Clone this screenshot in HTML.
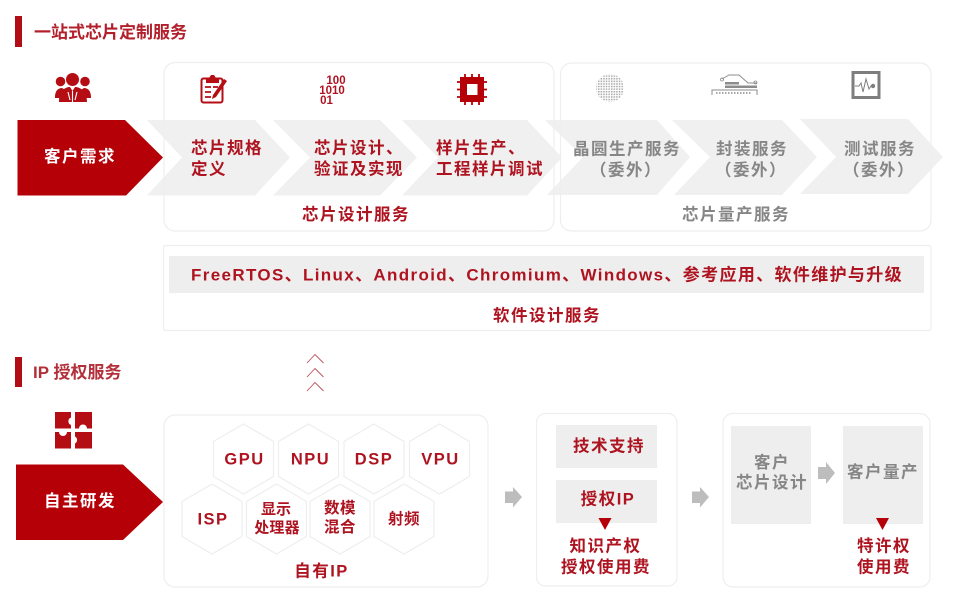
<!DOCTYPE html>
<html><head><meta charset="utf-8"><style>
html,body{margin:0;padding:0;background:#fff;width:963px;height:603px;overflow:hidden}
svg{display:block}
text{font-family:"Liberation Sans","Noto Sans CJK SC",sans-serif;text-anchor:middle;dominant-baseline:central;transform:translateY(1px)}
.r{fill:#ae1320;font-weight:700;font-size:16.5px;letter-spacing:1.5px}
.g{fill:#868686;font-weight:700;font-size:16.5px;letter-spacing:1.5px}
.w{fill:#fff;font-weight:700;font-size:16.5px;letter-spacing:1.5px}
.s{text-anchor:start}
.box{fill:none;stroke:#eeeeee;stroke-width:1.2}
.hex{fill:#fff;stroke:#eeeeee;stroke-width:1.2}
</style></head><body>
<svg width="963" height="603" viewBox="0 0 963 603" xmlns="http://www.w3.org/2000/svg">
<defs>
<pattern id="dots" width="2.6" height="2.6" patternUnits="userSpaceOnUse"><rect width="1.5" height="1.5" fill="#a8a8a8"/></pattern>
</defs>
<rect width="963" height="603" fill="#fff"/>

<!-- Section 1 header -->
<rect x="15" y="16" width="7" height="31" fill="#b00d16"/>
<text x="34" y="31.500" class="r s" style="letter-spacing:0;font-size:17px;fill:#b3202b">一站式芯片定制服务</text>

<!-- gray chevrons -->
<g fill="#f0f0f0">
<polygon points="147,120 255,120 290,157.500 255,195.500 147,195.500 182,157.500"/>
<polygon points="273,120 380,120 417,157.500 380,195.500 273,195.500 310,157.500"/>
<polygon points="402,120 527,120 562,157.500 527,195.500 402,195.500 438,157.500"/>
<polygon points="545,120 657,120 690,157 657,195 547,195 583,157"/>
<polygon points="672,120 782,120 817,157 782,195 674,195 710,157"/>
<polygon points="800,119 908,119 943,157 908,194 800,194 836,157"/>
</g>

<!-- boxes -->
<rect x="164" y="62.500" width="390" height="168.500" rx="11" class="box"/>
<rect x="560.500" y="63" width="370.500" height="168" rx="11" class="box"/>

<!-- red arrow 1 -->
<polygon points="17.500,120 125,120 163,157.500 126,195.500 17.500,195.500" fill="#b50008"/>
<text x="44" y="156" class="w s">客户需求</text>

<!-- icons row 1 -->
<g fill="#b50d14">
<circle cx="60.500" cy="81.500" r="4.800"/><circle cx="85" cy="81.500" r="4.800"/>
<path d="M55 97c0-6 3-9 7-9l5 3-3 7h-9zM91 97c0-6-3-9-7-9l-5 3 3 7h9z"/>
<circle cx="72.500" cy="79.500" r="6.500"/>
<path d="M59 102c0-10 5-15 11-15l2.500 4 2.500-4c6 0 12 5 12 15H59z"/>
</g>
<path d="M72.500 91v11M68 92l2 8M77 92l-2 8" stroke="#fff" stroke-width="1.100" fill="none"/>
<g>
<rect x="201.500" y="78.500" width="21" height="24" rx="2" fill="none" stroke="#b50d14" stroke-width="2"/>
<polygon points="206,79 209,78 211,75 214,75 216,78 219,79 219,83 206,83" fill="#b50d14"/>
<path d="M205 87h6M205 92h6M205 97h6M213 87h5" stroke="#b50d14" stroke-width="1.800" fill="none"/>
<polygon points="224,79 227,81 216,97 212,99 213,95" fill="#b50d14"/>
</g>
<text x="336" y="80" style="font-size:11.500px;font-weight:700" fill="#ae1320">100</text>
<text x="332" y="90" style="font-size:11.500px;font-weight:700" fill="#ae1320">1010</text>
<text x="326.500" y="100" style="font-size:11.500px;font-weight:700" fill="#ae1320">01</text>
<g>
<rect x="460" y="77" width="24" height="25" fill="#b50008"/>
<path d="M465 74v31M472 74v31M479 74v31M457 82h30M457 89.500h30M457 97h30" stroke="#b50008" stroke-width="1.800" fill="none"/>
<rect x="467" y="84" width="10.500" height="11" fill="#fff"/>
</g>
<circle cx="610" cy="88" r="14" fill="url(#dots)"/>
<g fill="none" stroke="#8c8c8c">
<path d="M722 79l7-4h10l9 8h9" stroke-width="0.900"/>
<circle cx="722" cy="79.500" r="1.500" stroke-width="0.800"/><circle cx="755.500" cy="82.500" r="1.500" stroke-width="0.800"/>
<path d="M712 95v-5h45v5" stroke-width="1"/>
<path d="M716 93h36" stroke-width="1.500" stroke-dasharray="1.500 1.500"/>
</g>
<rect x="725" y="82" width="14" height="2.500" fill="#8c8c8c"/>
<rect x="725" y="85.500" width="32" height="2.500" fill="#8c8c8c"/>
<g>
<rect x="853" y="72.500" width="26" height="25" fill="none" stroke="#7e7e7e" stroke-width="3"/>
<path d="M855 86h4l2-3 2 9 3-13 3 10 2-3h4" fill="none" stroke="#7e7e7e" stroke-width="1"/>
<circle cx="873" cy="86" r="2.200" fill="#7e7e7e"/>
</g>

<!-- row 1 labels -->
<text x="191" y="147.500" class="r s">芯片规格</text>
<text x="191" y="168.500" class="r s">定义</text>
<text x="314" y="147.500" class="r s">芯片设计、</text>
<text x="314" y="168.500" class="r s">验证及实现</text>
<text x="436" y="147.500" class="r s">样片生产、</text>
<text x="436" y="168.500" class="r s">工程样片调试</text>
<text x="573" y="148.500" class="g s">晶圆生产服务</text>
<text x="626" y="169.500" class="g">（委外）</text>
<text x="716" y="148.500" class="g s">封装服务</text>
<text x="751" y="169.500" class="g">（委外）</text>
<text x="844" y="148.500" class="g s">测试服务</text>
<text x="879" y="169.500" class="g">（委外）</text>
<text x="302" y="214" class="r s">芯片设计服务</text>
<text x="682" y="214" class="g s">芯片量产服务</text>

<!-- software -->
<rect x="163.500" y="245.500" width="767.500" height="85" rx="2" class="box"/>
<rect x="169" y="256" width="755" height="37" fill="#eeeeee"/>
<text x="547" y="274" class="r" style="font-size:17px;letter-spacing:1.35px">FreeRTOS、Linux、Android、Chromium、Windows、参考应用、软件维护与升级</text>
<text x="493" y="315" class="r s">软件设计服务</text>

<!-- Section 2 header -->
<rect x="15" y="357" width="7" height="30" fill="#b00d16"/>
<text x="33" y="371.500" class="r s" style="font-size:17px;letter-spacing:0;fill:#b3303a">IP 授权服务</text>

<g fill="none" stroke="#b8505a" stroke-width="0.900">
<path d="M307 363l8-8.500 8.500 8.500M307 377l8-8.500 8.500 8.500M307 391l8-8.500 8.500 8.500"/>
</g>

<!-- puzzle -->
<g fill="#b50d14">
<path d="M55 412h16v5.500a4 4 0 0 0 0 7.500v3.500H55z"/>
<path d="M75 412h17v16.500H87a4 4 0 0 0-8 0h-4z"/>
<path d="M55 432h4a4 4 0 0 0 8 0h4v16.500H55z"/>
<path d="M75 432h17v16.500H75v-5a4 4 0 0 0 0-7z"/>
</g>

<!-- red arrow 2 -->
<polygon points="16,464.500 123,464.500 163,502 123,540 16,540" fill="#b50008"/>
<text x="44" y="500.500" class="w s">自主研发</text>

<!-- IP box -->
<rect x="164" y="415" width="324" height="172" rx="11" class="box"/>
<g>
<polygon class="hex" points="243.500,424 273.500,441.500 273.500,476.500 243.500,494 213.500,476.500 213.500,441.500"/>
<polygon class="hex" points="308.500,424 338.500,441.500 338.500,476.500 308.500,494 278.500,476.500 278.500,441.500"/>
<polygon class="hex" points="374,424 404,441.500 404,476.500 374,494 344,476.500 344,441.500"/>
<polygon class="hex" points="439.500,424 469.500,441.500 469.500,476.500 439.500,494 409.500,476.500 409.500,441.500"/>
<polygon class="hex" points="212,484 242,501.500 242,536.500 212,554 182,536.500 182,501.500"/>
<polygon class="hex" points="276.500,484 306.500,501.500 306.500,536.500 276.500,554 246.500,536.500 246.500,501.500"/>
<polygon class="hex" points="340,484 370,501.500 370,536.500 340,554 310,536.500 310,501.500"/>
<polygon class="hex" points="404,484 434,501.500 434,536.500 404,554 374,536.500 374,501.500"/>
</g>
<text x="244.500" y="458.500" class="r">GPU</text>
<text x="310.500" y="458.500" class="r">NPU</text>
<text x="374" y="458.500" class="r">DSP</text>
<text x="440.500" y="458.500" class="r">VPU</text>
<text x="213" y="518.500" class="r">ISP</text>
<text x="276" y="508.500" class="r" style="font-size:15px;letter-spacing:0">显示</text>
<text x="277" y="527" class="r" style="font-size:15px;letter-spacing:0.200px">处理器</text>
<text x="340" y="507.500" class="r" style="font-size:15.500px;letter-spacing:0.500px">数模</text>
<text x="340" y="526.500" class="r" style="font-size:15.500px;letter-spacing:0.500px">混合</text>
<text x="404" y="518.500" class="r" style="font-size:15.500px;letter-spacing:0.500px">射频</text>
<text x="321.500" y="570.500" class="r">自有IP</text>

<!-- gray arrows -->
<g fill="#bdbdbd">
<polygon points="505,491.500 513,491.500 513,487 522,497 513,507.500 513,503 505,503"/>
<polygon points="692,491.500 700,491.500 700,487 709,497 700,507.500 700,503 692,503"/>
<polygon points="818,467 826,467 826,462 835,473 826,484 826,479 818,479"/>
</g>

<!-- license box -->
<rect x="536.500" y="413.500" width="140.500" height="172.500" rx="9" class="box"/>
<rect x="556" y="425" width="101" height="43" fill="#eeeeee"/>
<rect x="556" y="480" width="101" height="43" fill="#eeeeee"/>
<text x="573" y="445.500" class="r s">技术支持</text>
<text x="608" y="498.500" class="r">授权IP</text>
<polygon points="598.500,518 611.500,518 605,530" fill="#b50008"/>
<text x="569.500" y="545.500" class="r s">知识产权</text>
<text x="561" y="566.500" class="r s">授权使用费</text>

<!-- customer box -->
<rect x="723" y="413.500" width="207" height="173.500" rx="10" class="box"/>
<rect x="731" y="426" width="80" height="98" fill="#eeeeee"/>
<rect x="843" y="426" width="80" height="98" fill="#eeeeee"/>
<text x="772" y="462" class="g">客户</text>
<text x="736" y="482" class="g s">芯片设计</text>
<text x="847" y="471.500" class="g s">客户量产</text>
<polygon points="876,518 889,518 882.500,530" fill="#b50008"/>
<text x="857" y="545.500" class="r s">特许权</text>
<text x="857" y="566.500" class="r s">使用费</text>
</svg>
</body></html>
